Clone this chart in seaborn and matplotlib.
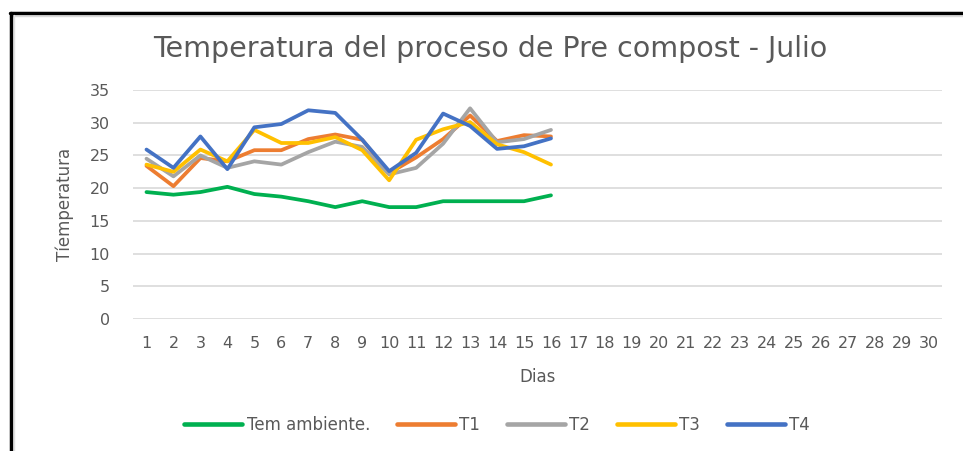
import matplotlib
matplotlib.use("Agg")
import matplotlib.pyplot as plt
from matplotlib.lines import Line2D
import seaborn as sns
import pandas as pd

days = list(range(1, 17))
tick_days = list(range(1, 31))
tem_ambiente = [19.4, 19.0, 19.4, 20.2, 19.1, 18.7, 18.0, 17.1, 18.0, 17.1, 17.1, 18.0, 18.0, 18.0, 18.0, 18.9]
t1 = [23.4, 20.3, 24.6, 24.1, 25.8, 25.8, 27.5, 28.2, 27.4, 22.3, 24.7, 27.5, 31.1, 27.2, 28.1, 27.9]
t2 = [24.5, 21.8, 25.0, 23.1, 24.1, 23.6, 25.5, 27.1, 26.3, 22.1, 23.1, 26.8, 32.2, 27.0, 27.5, 28.9]
t3 = [23.6, 22.5, 25.9, 24.1, 28.9, 26.9, 26.9, 27.8, 25.8, 21.2, 27.4, 29.0, 30.1, 26.7, 25.5, 23.6]
t4 = [25.9, 23.1, 27.9, 22.9, 29.3, 29.8, 31.9, 31.5, 27.4, 22.6, 25.4, 31.4, 29.5, 26.0, 26.4, 27.6]
series_names = ["Tem ambiente.", "T1", "T2", "T3", "T4"]
colors = ["#00B050", "#ED7D31", "#A5A5A5", "#FFC000", "#4472C4"]
yticks = [0, 5, 10, 15, 20, 25, 30, 35]

frames = []
for name, vals in zip(series_names, [tem_ambiente, t1, t2, t3, t4]):
    frames.append(pd.DataFrame({"Dia": days, "Temp": vals, "Serie": name}))
df = pd.concat(frames, ignore_index=True)

sns.set_theme(style="white")
plt.rcParams['font.family'] = ['DejaVu Sans']

fig = plt.figure(figsize=(9.63, 4.51), dpi=100)
ax = fig.add_axes([133/963, 1 - 319/451, (942 - 133)/963, (319 - 90)/451])

sns.lineplot(data=df, x="Dia", y="Temp", hue="Serie", hue_order=series_names,
             palette=colors, linewidth=2.7, ax=ax, legend=False, zorder=3)

ax.set_xlim(0.5, 30.5)
ax.set_ylim(0, 35)
ax.set_xticks(tick_days)
ax.set_xticklabels([str(d) for d in tick_days])
ax.set_yticks(yticks)
ax.set_yticklabels([str(v) for v in yticks])
ax.tick_params(axis='both', length=0, labelsize=11.5, colors="#595959")
ax.tick_params(axis='x', pad=12.5)
ax.tick_params(axis='y', pad=16.5)
ax.grid(axis='y', color="#D9D9D9", linewidth=1.2, zorder=0)
ax.grid(axis='x', visible=False)
for s in ax.spines.values():
    s.set_visible(False)

ax.set_xlabel("Dias", fontsize=12, color="#595959", labelpad=12)
ax.set_ylabel("Tíemperatura", fontsize=12, color="#595959", labelpad=11)

fig.text(490/963, 1 - 57/451, "Temperatura del proceso de Pre compost - Julio",
         ha='center', va='baseline', fontsize=20.5, color="#595959")

handles = [Line2D([0], [0], color=c, linewidth=3.3, solid_capstyle='round') for c in colors]
fig.legend(handles, series_names, loc='center', bbox_to_anchor=(497/963, 1 - 425/451),
           ncol=5, frameon=False, fontsize=12, handlelength=3.5, handletextpad=0.25,
           columnspacing=1.6, labelcolor="#595959")

# outer frame
fig.add_artist(Line2D([10/963, 1.0], [1 - 13/451, 1 - 13/451], transform=fig.transFigure,
                      color="black", linewidth=2.5))
fig.add_artist(Line2D([10/963, 1.0], [1 - 15.5/451, 1 - 15.5/451], transform=fig.transFigure,
                      color="#D9D9D9", linewidth=1))
fig.add_artist(Line2D([11/963, 11/963], [0, 1 - 13/451], transform=fig.transFigure,
                      color="black", linewidth=2.5))
fig.add_artist(Line2D([13.5/963, 13.5/963], [0, 1 - 15/451], transform=fig.transFigure,
                      color="#E0E0E0", linewidth=1))

fig.savefig("out.png", dpi=100)
